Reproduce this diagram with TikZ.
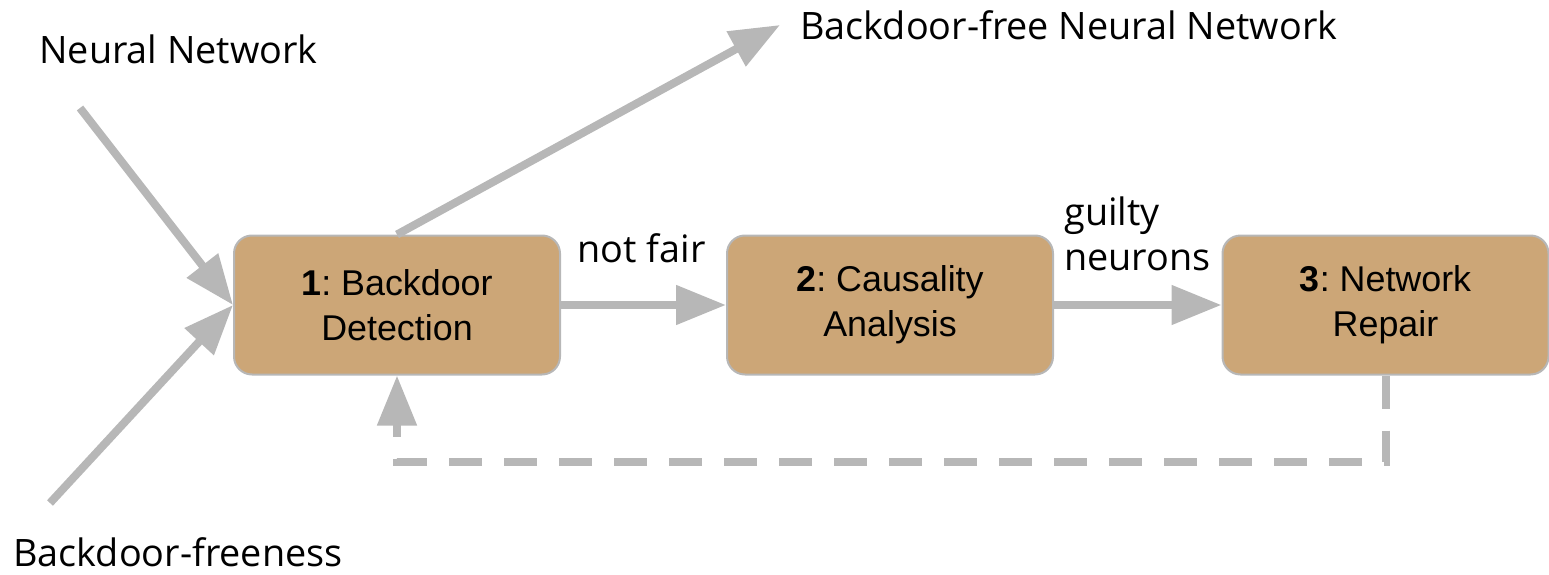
\documentclass[tikz,border=0pt]{standalone}
\usepackage{fontspec}
\setmainfont{Open Sans}
\newfontfamily\boxfont{Liberation Sans}
\usetikzlibrary{arrows.meta}

\definecolor{linegray}{RGB}{183,183,183}
\definecolor{boxtan}{RGB}{204,166,119}

\begin{document}
\frenchspacing
\begin{tikzpicture}[
    >={Triangle[length=1cm, width=0.76cm]},
    line/.style     = {draw=linegray, line width=0.16cm},
    dashline/.style = {line, dash pattern=on 0.66cm off 0.44cm},
    block/.style    = {draw=linegray, line width=0.04cm, fill=boxtan,
                       rounded corners=0.36cm, align=center,
                       minimum width=6.52cm, minimum height=2.78cm,
                       font=\boxfont\fontsize{20.4pt}{25.5pt}\selectfont},
    sig/.style      = {inner sep=0pt, font=\fontsize{21.5pt}{25.5pt}\selectfont}
]
\useasboundingbox (0,0) rectangle (30.98,11.48);

% Pipeline stages
\node[block] (detect) at ( 7.94, 5.38) {\textbf{1}: Backdoor\\Detection};
\node[block] (causal) at (17.80, 5.38) {\textbf{2}: Causality\\Analysis};
\node[block] (repair) at (27.71, 5.38) {\textbf{3}: Network\\Repair};

% Inputs and output
\node[sig, anchor=base west] (nn)   at ( 0.78, 10.20) {Neural Network};
\node[sig, anchor=base west] (bf)   at ( 0.26,  0.16) {Backdoor-freeness};
\node[sig, anchor=base west] (bfnn) at (16.00, 10.68) {Backdoor-free Neural Network};
\coordinate (nnin) at ( 1.60,  9.32);
\coordinate (bfin) at ( 1.00,  1.42);
\coordinate (out)  at (15.60, 10.98);

\draw[->, line] (nnin) -- (detect.west);
\draw[->, line] (bfin) -- (detect.west);
\draw[->, line] (detect.north) -- (out);

% Stage connections
\node[sig, anchor=base] (nf) at (12.83, 6.24) {not fair};
\node[sig, anchor=base west, align=left] (gn) at (21.28, 6.08) {guilty\\neurons};
\draw[->, line] (detect.east) -- (causal.west);
\draw[->, line] (causal.east) -- (repair.west);

% Feedback loop
\coordinate (back) at (27.71, 2.24);
\draw[->, dashline] (repair.south) -- (back) -| (detect.south);

\end{tikzpicture}
\end{document}
